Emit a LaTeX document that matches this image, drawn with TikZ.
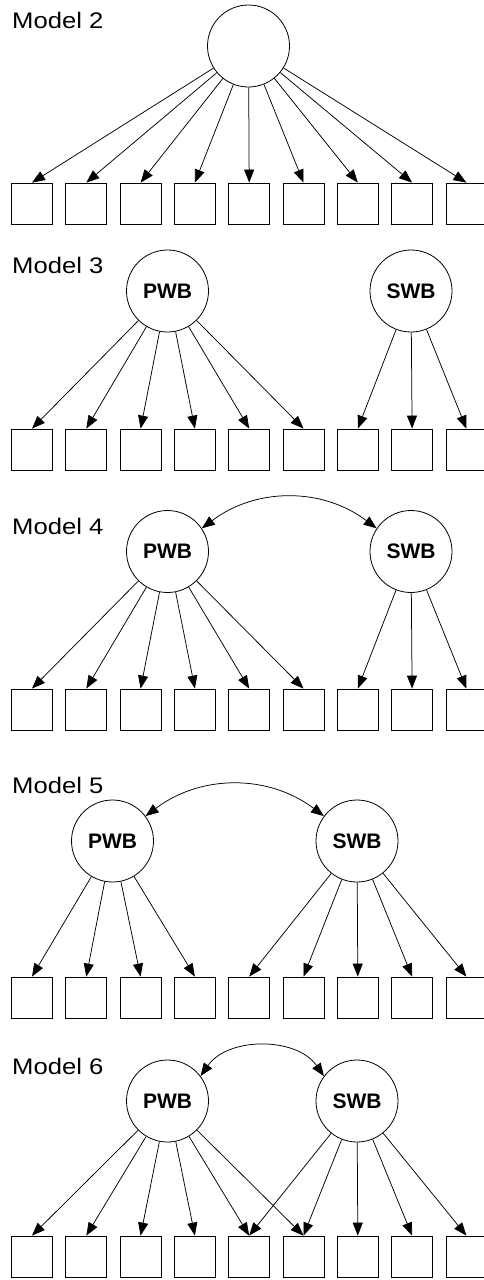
\documentclass[tikz,border=0pt]{standalone}
\usepackage{fontspec}
\setmainfont{Liberation Sans}
\newfontfamily\modfont[FakeStretch=1.14]{Liberation Sans}
\usetikzlibrary{arrows.meta}
\tikzset{
  ind/.style={draw, line width=0.8pt, minimum size=41pt, inner sep=0pt},
  lat/.style={draw, circle, line width=0.8pt, minimum size=82pt, inner sep=0pt,
    font=\fontsize{21}{21}\selectfont\bfseries},
  modlab/.style={anchor=base west, inner sep=0pt, font=\modfont\fontsize{22.5}{22.5}\selectfont},
  load/.style={line width=0.75pt, -{Triangle[length=13pt,width=10pt]}},
  cov/.style={line width=0.75pt, {Triangle[length=13pt,width=10pt]}-{Triangle[length=13pt,width=10pt]}},
}

\begin{document}
\begin{tikzpicture}[x=1pt, y=-1pt]
  \def\xo{32}
  \def\dx{54.3}
  \useasboundingbox (0,0) rectangle (484,1280);

  % Model 2: one factor
  \node[modlab] (lab2) at (12,28.3) {Model 2};
  \node[lat] (m2F) at (248.5,46) {};
  \foreach \i in {1,...,9} {
    \node[ind] (m2b\i) at ({\xo+\dx*(\i-1)},203.5) {};
    \draw[load] (m2F) -- (m2b\i.north);
  }

  % Model 3: two factors
  \node[modlab] (lab3) at (12,273.3) {Model 3};
  \node[lat] (m3P) at (167.5,291) {PWB};
  \node[lat] (m3S) at (411,291) {SWB};
  \foreach \i in {1,...,9}
    \node[ind] (m3b\i) at ({\xo+\dx*(\i-1)},449.5) {};
  \foreach \i in {1,...,6} \draw[load] (m3P) -- (m3b\i.north);
  \foreach \i in {7,8,9} \draw[load] (m3S) -- (m3b\i.north);

  % Model 4: correlated factors
  \node[modlab] (lab4) at (12,534) {Model 4};
  \node[lat] (m4P) at (167.5,551.5) {PWB};
  \node[lat] (m4S) at (411,551.5) {SWB};
  \foreach \i in {1,...,9}
    \node[ind] (m4b\i) at ({\xo+\dx*(\i-1)},709.5) {};
  \foreach \i in {1,...,6} \draw[load] (m4P) -- (m4b\i.north);
  \foreach \i in {7,8,9} \draw[load] (m4S) -- (m4b\i.north);
  \draw[cov] (m4P.34) to[bend left=37] (m4S.146);

  % Model 5
  \node[modlab] (lab5) at (12,793) {Model 5};
  \node[lat] (m5P) at (112.5,841) {PWB};
  \node[lat] (m5S) at (357,841) {SWB};
  \foreach \i in {1,...,9}
    \node[ind] (m5b\i) at ({\xo+\dx*(\i-1)},997.5) {};
  \foreach \i in {1,...,4} \draw[load] (m5P) -- (m5b\i.north);
  \foreach \i in {5,...,9} \draw[load] (m5S) -- (m5b\i.north);
  \draw[cov] (m5P.37) to[bend left=37] (m5S.143);

  % Model 6: cross-loadings
  \node[modlab] (lab6) at (12,1074) {Model 6};
  \node[lat] (m6P) at (167.5,1101) {PWB};
  \node[lat] (m6S) at (357,1101) {SWB};
  \foreach \i in {1,...,9}
    \node[ind] (m6b\i) at ({\xo+\dx*(\i-1)},1256.5) {};
  \foreach \i in {1,...,6} \draw[load] (m6P) -- (m6b\i.north);
  \foreach \i in {5,...,9} \draw[load] (m6S) -- (m6b\i.north);
  \draw[cov] (m6P.37) to[bend left=55] (m6S.143);
\end{tikzpicture}
\end{document}
